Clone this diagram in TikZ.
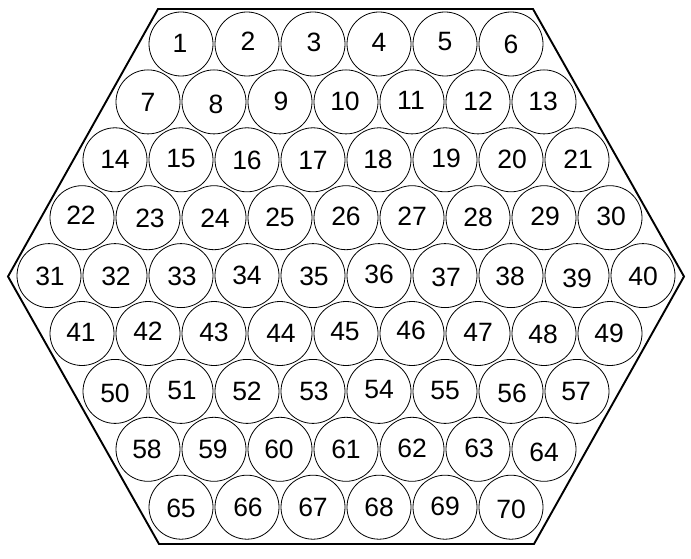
\documentclass[tikz,border=0pt]{standalone}
\usepackage{fontspec}
\setmainfont{Liberation Sans}
\begin{document}
\begin{tikzpicture}[x=1pt,y=-1pt,
  ball/.style={circle,draw=black,line width=0.8pt,minimum size=64pt,inner sep=0pt},
  num/.style={inner sep=0pt,font=\fontsize{26.5}{26.5}\selectfont},
  hexline/.style={draw=black,line width=1.9pt,line join=miter}]
\useasboundingbox (0,0) rectangle (691,559);
\fill[white] (0,0) rectangle (691,559);
\coordinate (h1) at (158,9);
\coordinate (h2) at (533,9);
\coordinate (h3) at (684,276.5);
\coordinate (h4) at (534,544);
\coordinate (h5) at (159,544);
\coordinate (h6) at (8,276.5);
\draw[hexline] (h1) -- (h2) -- (h3) -- (h4) -- (h5) -- (h6) -- cycle;
\foreach \r/\st/\cnt in {0/1/6,1/7/7,2/14/8,3/22/9,4/31/10,5/41/9,6/50/8,7/58/7,8/65/6}{
  \pgfmathsetmacro{\off}{abs(\r-4)}
  \foreach \k in {1,...,\cnt}{
    \pgfmathtruncatemacro{\n}{\st+\k-1}
    \pgfmathsetmacro{\cx}{49+33*\off+66*(\k-1)}
    \pgfmathsetmacro{\cy}{44+57.9*\r}
    \node[ball] (c\n) at (\cx,\cy) {};
  }
}
\foreach \n/\lx/\ly in {
1/180/43,2/248/41,3/314/42,4/379/42,5/445/42,6/511/44,
7/148/102,8/216/104,9/281/101,10/345/101,11/411/100,12/478/101,13/543/101,
14/115/159,15/181/159,16/247/160,17/313/160,18/378/159,19/446/158,20/512/159,21/578/159,
22/81/215,23/150/218,24/215/218,25/280/217,26/346/216,27/412/216,28/478/217,29/545/216,30/611/216,
31/50/276,32/116/276,33/182/276,34/247/275,35/314/276,36/379/274,37/446/277,38/510/276,39/577/278,40/643/276,
41/81/332,42/148/331,43/214/332,44/281/333,45/345/332,46/411/330,47/478/332,48/543/334,49/609/333,
50/115/393,51/182/391,52/247/391,53/314/391,54/379/390,55/445/391,56/512/393,57/576/392,
58/147/449,59/213/449,60/279/449,61/346/449,62/412/448,63/479/448,64/544/452,
65/181/508,66/248/507,67/313/507,68/379/507,69/445/506,70/511/509}{
  \node[num] (l\n) at (\lx,\ly) {\n};
}
\end{tikzpicture}
\end{document}
